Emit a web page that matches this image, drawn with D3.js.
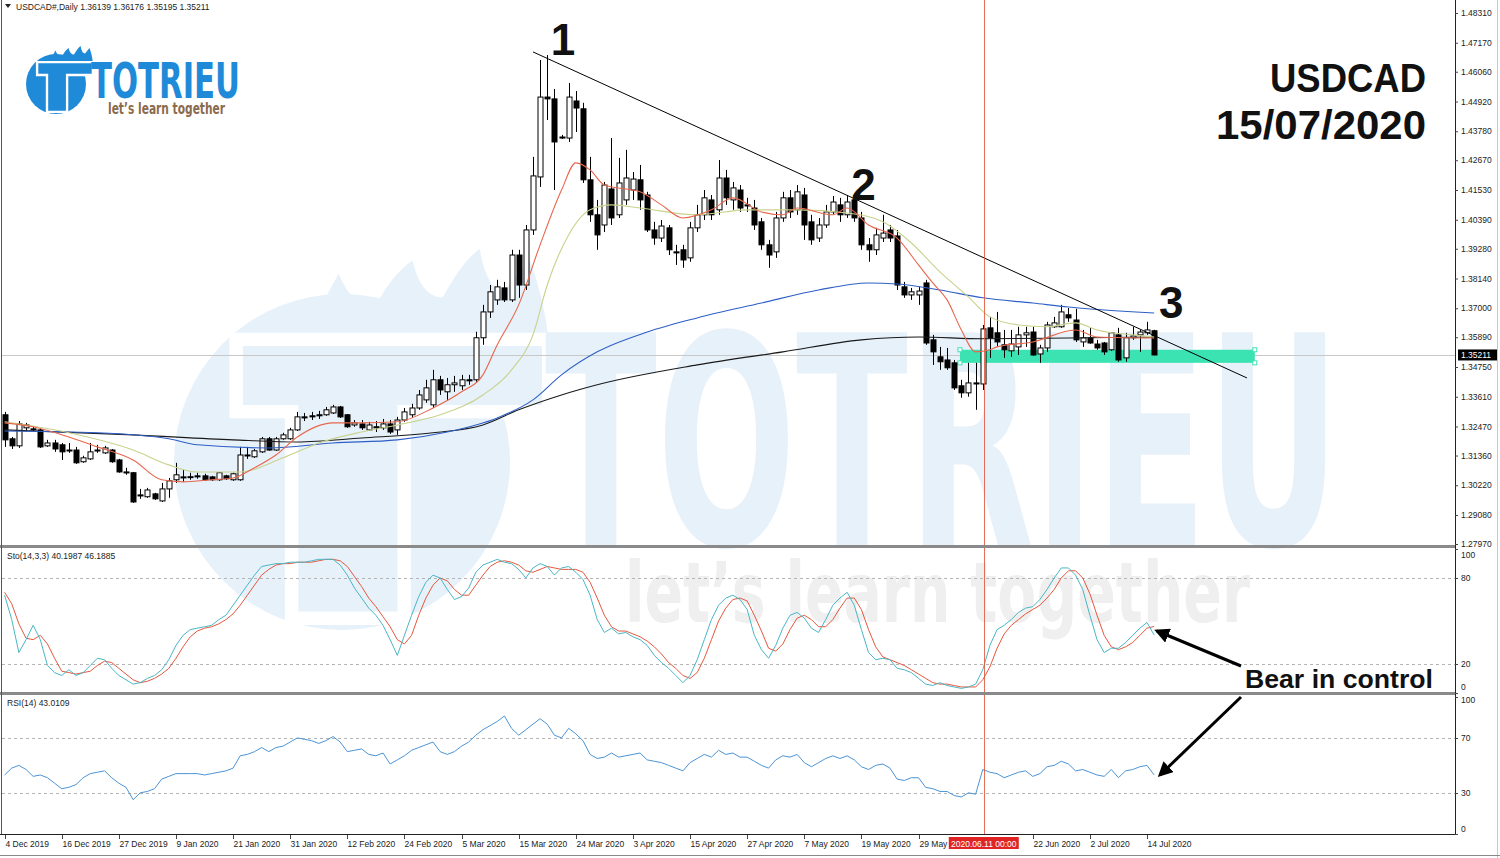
<!DOCTYPE html>
<html><head><meta charset="utf-8">
<script src="https://cdn.jsdelivr.net/npm/d3@7"></script>
<style>
body{margin:0;background:#fff;}
svg{display:block;}
</style></head>
<body><svg id="c" width="1500" height="858"></svg>
<script>
// ---------------- DATA ----------------
const openP = [1.3292,1.3200,1.3173,1.3242,1.3238,1.3234,1.3173,1.3184,1.3177,1.3157,
1.3157,1.3112,1.3123,1.3157,1.3146,1.3157,1.3119,1.3073,1.3070,1.2985,
1.2978,1.2989,1.2962,1.3008,1.3043,1.3054,1.3054,1.3058,1.3058,1.3054,
1.3043,1.3058,1.3043,1.3043,1.3138,1.3131,1.3150,1.3200,1.3157,1.3200,
1.3200,1.3234,1.3284,1.3288,1.3292,1.3292,1.3299,1.3322,1.3292,1.3253,
1.3257,1.3234,1.3246,1.3242,1.3257,1.3234,1.3272,1.3292,1.3318,1.3349,
1.3330,1.3426,1.3380,1.3407,1.3403,1.3426,1.3426,1.3587,1.3686,1.3732,
1.3778,1.3732,1.3904,1.3789,1.4000,1.4203,1.4509,1.4502,1.4356,1.4352,
1.4494,1.4464,1.4192,1.4058,1.4019,1.4157,1.4058,1.4115,1.4153,1.4192,
1.4134,1.4000,1.3969,1.4008,1.3916,1.3924,1.3893,1.4008,1.4058,1.4115,
1.4077,1.4199,1.4115,1.4153,1.4096,1.4084,1.4031,1.3943,1.3916,1.4046,
1.4123,1.4077,1.4134,1.4031,1.3969,1.4019,1.4069,1.4096,1.4058,1.4115,
1.4046,1.3943,1.3924,1.3969,1.4000,1.3977,1.3782,1.3751,1.3751,1.3797,
1.3579,1.3514,1.3502,1.3491,1.3403,1.3376,1.3414,1.3410,1.3625,1.3606,
1.3560,1.3537,1.3552,1.3598,1.3609,1.3525,1.3548,1.3629,1.3629,1.3675,
1.3655,1.3571,1.3587,1.3563,1.3567,1.3541,1.3598,1.3510,1.3587,1.3598,
1.3606,1.36139];
const highP = [1.3303,1.3207,1.3268,1.3261,1.3246,1.3242,1.3196,1.3196,1.3184,1.3184,
1.3169,1.3135,1.3184,1.3177,1.3173,1.3161,1.3123,1.3089,1.3073,1.3008,
1.3012,1.2993,1.3031,1.3050,1.3108,1.3081,1.3070,1.3070,1.3066,1.3058,
1.3073,1.3062,1.3070,1.3169,1.3169,1.3161,1.3207,1.3207,1.3207,1.3223,
1.3242,1.3303,1.3299,1.3303,1.3307,1.3322,1.3330,1.3326,1.3295,1.3272,
1.3272,1.3265,1.3268,1.3276,1.3272,1.3284,1.3318,1.3334,1.3387,1.3426,
1.3464,1.3441,1.3433,1.3441,1.3445,1.3445,1.3610,1.3713,1.3789,1.3809,
1.3801,1.3924,1.3924,1.4019,1.4280,1.4651,1.4670,1.4540,1.4364,1.4563,
1.4532,1.4487,1.4280,1.4115,1.4184,1.4352,1.4276,1.4307,1.4222,1.4249,
1.4146,1.4031,1.4038,1.4019,1.3943,1.3943,1.4031,1.4096,1.4153,1.4134,
1.4268,1.4230,1.4184,1.4172,1.4123,1.4115,1.4046,1.3962,1.4069,1.4146,
1.4153,1.4172,1.4161,1.4058,1.4046,1.4096,1.4130,1.4123,1.4134,1.4134,
1.4069,1.3969,1.4008,1.4058,1.4019,1.4000,1.3801,1.3778,1.3782,1.3809,
1.3598,1.3552,1.3548,1.3502,1.3426,1.3491,1.3491,1.3636,1.3667,1.3686,
1.3617,1.3617,1.3629,1.3629,1.3629,1.3560,1.3648,1.3667,1.3713,1.3701,
1.3698,1.3617,1.3625,1.3579,1.3571,1.3609,1.3625,1.3606,1.3629,1.3617,
1.3648,1.36176];
const lowP = [1.3169,1.3161,1.3165,1.3230,1.3230,1.3165,1.3169,1.3150,1.3119,1.3146,
1.3104,1.3108,1.3119,1.3146,1.3142,1.3108,1.3070,1.3062,1.2955,1.2970,
1.2974,1.2966,1.2958,1.2974,1.3031,1.3035,1.3043,1.3047,1.3039,1.3039,
1.3039,1.3043,1.3039,1.3039,1.3123,1.3127,1.3146,1.3154,1.3154,1.3196,
1.3196,1.3230,1.3268,1.3272,1.3276,1.3288,1.3295,1.3280,1.3242,1.3246,
1.3234,1.3230,1.3226,1.3234,1.3219,1.3215,1.3265,1.3280,1.3311,1.3338,
1.3318,1.3368,1.3349,1.3380,1.3387,1.3407,1.3414,1.3560,1.3663,1.3713,
1.3724,1.3724,1.3740,1.3770,1.3981,1.4165,1.4421,1.4153,1.4349,1.4337,
1.4375,1.4180,1.4031,1.3924,1.3992,1.4019,1.4046,1.4096,1.4115,1.4077,
1.3992,1.3943,1.3954,1.3904,1.3866,1.3855,1.3878,1.3992,1.4038,1.4038,
1.4058,1.4096,1.4077,1.4069,1.4069,1.4000,1.3924,1.3855,1.3893,1.4031,
1.4046,1.4058,1.3962,1.3943,1.3954,1.4008,1.4058,1.4031,1.4046,1.4031,
1.3924,1.3878,1.3904,1.3954,1.3954,1.3770,1.3740,1.3732,1.3713,1.3560,
1.3483,1.3464,1.3464,1.3387,1.3357,1.3361,1.3311,1.3387,1.3510,1.3552,
1.3510,1.3514,1.3521,1.3552,1.3518,1.3491,1.3533,1.3625,1.3625,1.3648,
1.3571,1.3552,1.3564,1.3541,1.3521,1.3537,1.3495,1.3495,1.3579,1.3533,
1.3598,1.35195];
const closeP = [1.3196,1.3173,1.3257,1.3253,1.3234,1.3169,1.3184,1.3161,1.3150,1.3155,
1.3108,1.3127,1.3150,1.3154,1.3165,1.3112,1.3073,1.3070,1.2958,1.2981,
1.3004,1.2970,1.3008,1.3039,1.3062,1.3052,1.3055,1.3057,1.3043,1.3043,
1.3070,1.3047,1.3066,1.3138,1.3135,1.3154,1.3200,1.3157,1.3200,1.3215,
1.3234,1.3284,1.3280,1.3284,1.3288,1.3311,1.3322,1.3284,1.3246,1.3261,
1.3242,1.3253,1.3242,1.3257,1.3226,1.3272,1.3303,1.3318,1.3368,1.3395,
1.3426,1.3387,1.3407,1.3414,1.3426,1.3422,1.3587,1.3686,1.3763,1.3782,
1.3732,1.3904,1.3789,1.4000,1.4207,1.4509,1.4502,1.4337,1.4352,1.4509,
1.4467,1.4192,1.4058,1.3981,1.4172,1.4046,1.4180,1.4199,1.4195,1.4115,
1.4000,1.3969,1.4015,1.3924,1.3912,1.3885,1.4008,1.4058,1.4123,1.4058,
1.4199,1.4123,1.4161,1.4084,1.4092,1.4019,1.3943,1.3904,1.4046,1.4123,
1.4069,1.4146,1.4019,1.3962,1.4019,1.4069,1.4107,1.4058,1.4107,1.4046,
1.3943,1.3924,1.3981,1.3988,1.3969,1.3789,1.3751,1.3763,1.3766,1.3567,
1.3533,1.3495,1.3472,1.3395,1.3376,1.3414,1.3410,1.3621,1.3586,1.3571,
1.3541,1.3563,1.3598,1.3606,1.3521,1.3548,1.3636,1.3644,1.3686,1.3663,
1.3579,1.3587,1.3567,1.3548,1.3533,1.3606,1.3502,1.3587,1.3594,1.3609,
1.3617,1.35211];

// moving averages sampled at bar indices
const maRedBars = [0,4,9,13,18,22,25,29,32,35,38,41,46,50,55,60,64,67,69,72,75,78,80,82,84,89,92,95,99,102,106,109,111,116,118,121,125,128,130,132,134,136,138,139,144,150,153,161];
const maRedVals = [1.3261,1.3246,1.3207,1.3169,1.3119,1.3043,1.3035,1.3043,1.3050,1.3089,1.3138,1.3207,1.3261,1.3261,1.3265,1.3318,1.3380,1.3445,1.3560,1.3713,1.3943,1.4153,1.4257,1.4230,1.4172,1.4146,1.4096,1.4046,1.4077,1.4123,1.4069,1.4058,1.4084,1.4058,1.4084,1.4019,1.3969,1.3866,1.3797,1.3732,1.3617,1.3533,1.3541,1.3552,1.3571,1.3617,1.3590,1.3586];
const maKhakiBars = [0,9,18,23,27,33,39,44,50,55,61,67,71,74,76,79,82,85,89,97,104,111,118,123,127,131,135,138,142,146,150,153,158,161];
const maKhakiVals = [1.3265,1.3223,1.3157,1.3100,1.3073,1.3073,1.3127,1.3184,1.3226,1.3253,1.3292,1.3368,1.3464,1.3598,1.3789,1.3981,1.4077,1.4096,1.4084,1.4058,1.4077,1.4077,1.4065,1.4031,1.3950,1.3839,1.3743,1.3667,1.3636,1.3629,1.3644,1.3617,1.3598,1.3590];
const maBlueBars = [0,13,23,27,37,46,55,62,69,74,78,83,90,97,106,114,121,125,131,137,144,149,161];
const maBlueVals = [1.3230,1.3223,1.3200,1.3177,1.3165,1.3184,1.3196,1.3226,1.3280,1.3349,1.3445,1.3533,1.3609,1.3663,1.3720,1.3770,1.3797,1.3793,1.3770,1.3740,1.3720,1.3705,1.3682];
const maBlackBars = [0,18,32,41,50,60,67,72,78,83,97,109,120,128,137,149,161];
const maBlackVals = [1.3234,1.3215,1.3196,1.3188,1.3203,1.3223,1.3253,1.3311,1.3368,1.3407,1.3483,1.3533,1.3579,1.3590,1.3583,1.3586,1.3590];

// stochastic %K, %D and RSI, one value per bar
const stochK = [68,51,28,37,47,37,19,14,12,16, 12,14,19,24,23,17,12,9,6,7, 10,12,16,23,33,40,44,45,46,47,
51,54,61,68,75,82,88,89,90,90, 91,91,91,92,93,93,93,89,82,73, 66,59,54,47,37,26,40,54,67,77,
82,80,72,65,67,73,84,89,91,93, 91,90,86,80,87,90,88,82,87,88, 84,79,68,51,42,45,41,42,39,37,
33,26,21,17,12,7,12,23,37,51, 61,66,68,65,58,40,30,24,33,45, 54,56,52,45,42,51,61,66,70,61,
44,28,23,24,23,17,16,14,10,6, 5,7,5,4,3,4,6,16,33,44, 47,51,56,59,60,65,72,80,87,87,
82,72,54,37,28,31,31,35,40,45, 49,40.1987];
const stochD = [70,62,48,38,37,40,34,24,15,14, 13,14,15,19,22,21,17,13,9,7, 8,10,13,17,24,32,39,43,45,46,
48,51,55,61,68,75,82,86,89,90, 90,91,91,91,92,93,93,92,88,81, 74,66,60,53,46,37,34,40,54,66,
75,80,78,72,68,68,75,82,88,91, 92,91,89,85,84,86,88,87,86,86, 86,84,77,66,54,46,43,43,41,39,
36,32,27,21,17,12,10,14,24,37, 50,59,65,66,64,54,43,31,29,34, 44,52,54,51,46,46,51,59,66,66,
58,44,32,25,23,21,19,16,13,10, 7,6,6,5,4,4,4,9,18,31, 41,47,51,55,58,61,66,72,80,85,
85,80,69,54,40,32,30,32,35,40, 45,46.1885];
const rsi = [43,48,50,47,42,43,41,37,33,34, 36,41,44,45,46,41,37,34,25,30, 31,33,40,42,44,44,44,44,43,44,
45,46,48,57,58,60,63,60,63,64, 67,70,69,68,66,68,71,67,60,61, 62,58,57,59,51,54,57,61,63,65,
67,60,58,60,64,67,72,76,79,82, 86,77,72,76,80,84,80,72,70,77, 73,68,58,55,56,59,56,57,58,59,
54,53,52,50,48,46,52,55,58,56, 61,58,59,56,56,53,50,48,54,57, 56,58,52,49,52,55,57,55,57,54,
49,47,50,51,48,40,39,41,41,34, 33,31,31,28,27,30,29,47,45,44, 41,43,45,46,42,44,49,50,53,51,
46,47,45,43,42,47,41,46,47,49, 50,43.0109];

const priceTicks = [1.48310,1.47170,1.46060,1.44920,1.43780,1.42670,1.41530,1.40390,1.39280,1.38140,1.37000,1.35890,1.34750,1.33610,1.32470,1.31360,1.30220,1.29080,1.27970];
const dateTickBars = [0,8,16,24,32,40,48,56,64,72,80,88,96,104,112,120,128,144,152,160];
const dateTickLabels = ["4 Dec 2019","16 Dec 2019","27 Dec 2019","9 Jan 2020","21 Jan 2020","31 Jan 2020","12 Feb 2020","24 Feb 2020","5 Mar 2020","15 Mar 2020","24 Mar 2020","3 Apr 2020","15 Apr 2020","27 Apr 2020","7 May 2020","19 May 2020","29 May 2020","22 Jun 2020","2 Jul 2020","14 Jul 2020"];
const stochTicks = [100,80,20,0];
const rsiTicks = [100,70,30,0];
const lastPrice = 1.35211;
const markerBar = 137, markerLabel = "2020.06.11 00:00";
const trendBars = [74,174], trendPrices = [1.4682,1.3433];
const zoneBars = [133.8,175.1], zonePrices = [1.3491,1.3541];
const waveLabels = ["1","2","3"], waveBars = [78.2,120.3,163.4], wavePrices = [1.4670,1.4115,1.3663];

// ---------------- SCALES ----------------
const svg = d3.select("#c");
const F = "'Liberation Sans', Arial, sans-serif";
const FC = "'DejaVu Sans Condensed','DejaVu Sans',sans-serif";
const x = d3.scaleLinear().domain([0,161]).range([4.6, 4.6+7.14*161]);
const yP = d3.scaleLinear().domain([1.27970,1.48310]).range([544,13]);
const yS = d3.scaleLinear().domain([0,100]).range([692.7,549.3]);
const yR = d3.scaleLinear().domain([0,100]).range([834,696.75]);
const RIGHT = 1455;

svg.append("rect").attr("width",1500).attr("height",858).attr("fill","#fff");

// ---------------- WATERMARK + LOGO ----------------
function logo(g, cx, cy, r, fill, gap){
  const P = (a,b)=>[cx+a*r, cy+b*r];
  g.append("circle").attr("cx",cx).attr("cy",cy).attr("r",r).attr("fill",fill);
  const fl = d3.path();
  let p = P(-0.2,-0.73); fl.moveTo(...p);
  const segs = [[-0.12,-0.95,-0.02,-1.12],[0.06,-0.92,0.2,-0.93],[0.3,-1.12,0.42,-1.2],[0.47,-0.98,0.6,-0.98],[0.72,-1.2,0.82,-1.27],[0.86,-1.02,0.97,-1.02],[1.06,-1.14,1.12,-1.2],[1.2,-0.98,1.23,-0.73]];
  segs.forEach(s=>{const c=P(s[0],s[1]), e=P(s[2],s[3]); fl.quadraticCurveTo(c[0],c[1],e[0],e[1]);});
  fl.closePath();
  g.append("path").attr("d",fl.toString()).attr("fill",fill);
  const t = [P(-0.63,-0.73),P(1.23,-0.73),P(1.23,-0.3),P(0.37,-0.3),P(0.37,0.93),P(-0.3,0.93),P(-0.3,-0.3),P(-0.63,-0.3)];
  g.append("path").attr("d","M"+t.map(q=>q.join(",")).join("L")+"Z").attr("fill",fill).attr("stroke",gap).attr("stroke-width",r*0.08);
}
const wm = svg.append("g");
logo(wm, 342, 462, 168, "#e7f1fa", "#ffffff");
wm.append("text").attr("x",545).attr("y",545).attr("font-family",FC).attr("font-weight","bold").attr("font-size",292)
  .attr("textLength",795).attr("lengthAdjust","spacingAndGlyphs").attr("fill","#e7f1fa").text("TOTRIEU");
wm.append("text").attr("x",625).attr("y",622).attr("font-family",FC).attr("font-weight","bold").attr("font-size",84)
  .attr("textLength",625).attr("lengthAdjust","spacingAndGlyphs").attr("fill","#efefef").text("let’s learn together");

const lg = svg.append("g");
logo(lg, 56, 84, 30, "#1f8ad8", "#ffffff");
lg.append("text").attr("x",91).attr("y",98).attr("font-family",FC).attr("font-weight","bold").attr("font-size",49)
  .attr("textLength",149).attr("lengthAdjust","spacingAndGlyphs").attr("fill","#1f8ad8").text("TOTRIEU");
lg.append("text").attr("x",108).attr("y",114).attr("font-family",FC).attr("font-weight","bold").attr("font-size",16)
  .attr("textLength",117).attr("lengthAdjust","spacingAndGlyphs").attr("fill","#8b6b4e").text("let’s learn together");

// ---------------- CLIPS ----------------
const defs = svg.append("defs");
defs.append("clipPath").attr("id","cpM").append("rect").attr("x",2).attr("y",0).attr("width",RIGHT-2).attr("height",545);
defs.append("clipPath").attr("id","cpS").append("rect").attr("x",2).attr("y",549).attr("width",RIGHT-2).attr("height",143);
defs.append("clipPath").attr("id","cpR").append("rect").attr("x",2).attr("y",696).attr("width",RIGHT-2).attr("height",138);
defs.append("marker").attr("id","arr").attr("viewBox","0 0 10 10").attr("refX",8).attr("refY",5)
  .attr("markerWidth",5).attr("markerHeight",5).attr("orient","auto")
  .append("path").attr("d","M0,0L10,5L0,10Z").attr("fill","#000");

// ---------------- MAIN PANEL ----------------
const gm = svg.append("g").attr("clip-path","url(#cpM)");
gm.append("line").attr("x1",2).attr("x2",RIGHT).attr("y1",Math.round(yP(lastPrice))+0.5).attr("y2",Math.round(yP(lastPrice))+0.5)
  .attr("stroke","#c8c8c8");
gm.append("rect").attr("x",x(zoneBars[0])).attr("width",x(zoneBars[1])-x(zoneBars[0]))
  .attr("y",yP(zonePrices[1])).attr("height",yP(zonePrices[0])-yP(zonePrices[1])).attr("fill","#3be3b2");
[[zoneBars[0],zonePrices[1]],[zoneBars[1],zonePrices[1]],[zoneBars[1],zonePrices[0]],[zoneBars[0],zonePrices[0]]].forEach(c=>{
  gm.append("rect").attr("x",x(c[0])-2).attr("y",yP(c[1])-2).attr("width",4).attr("height",4).attr("fill","#fff").attr("stroke","#3be3b2");
});

const line = (yy)=>d3.line().x(d=>x(d[0])).y(d=>yy(d[1])).curve(d3.curveMonotoneX);
const mas = [[maBlackBars,maBlackVals,"#1a1a1a"],[maBlueBars,maBlueVals,"#2e5fc6"],[maKhakiBars,maKhakiVals,"#c9d28c"],[maRedBars,maRedVals,"#e8664c"]];

const bars = d3.range(openP.length).map(i=>({i,o:openP[i],h:highP[i],l:lowP[i],c:closeP[i]}));
const cg = gm.append("g");
cg.selectAll("line.w").data(bars).join("line")
  .attr("x1",d=>Math.round(x(d.i))+0.5).attr("x2",d=>Math.round(x(d.i))+0.5)
  .attr("y1",d=>yP(d.h)).attr("y2",d=>yP(d.l)).attr("stroke","#000").attr("stroke-width",1);
cg.selectAll("rect.b").data(bars).join("rect")
  .attr("x",d=>Math.round(x(d.i))-2).attr("width",5)
  .attr("y",d=>yP(Math.max(d.o,d.c))).attr("height",d=>Math.max(1,Math.abs(yP(d.o)-yP(d.c))))
  .attr("fill",d=>d.c>=d.o?"#fff":"#000").attr("stroke","#000").attr("stroke-width",1);

mas.forEach(m=>{
  gm.append("path").datum(m[0].map((b,k)=>[b,m[1][k]])).attr("d",line(yP)).attr("fill","none").attr("stroke",m[2]).attr("stroke-width",1.1);
});

gm.append("line").attr("x1",x(trendBars[0])).attr("y1",yP(trendPrices[0])).attr("x2",x(trendBars[1])).attr("y2",yP(trendPrices[1]))
  .attr("stroke","#000").attr("stroke-width",1);

waveLabels.forEach((t,k)=>{
  svg.append("text").attr("x",x(waveBars[k])).attr("y",yP(wavePrices[k])).attr("text-anchor","middle")
    .attr("font-family",F).attr("font-weight","bold").attr("font-size",44).attr("fill","#111").text(t);
});
svg.append("text").attr("x",1426).attr("y",92).attr("text-anchor","end").attr("font-family",F).attr("font-weight","bold")
  .attr("font-size",40).attr("textLength",156).attr("lengthAdjust","spacingAndGlyphs").attr("fill","#111").text("USDCAD");
svg.append("text").attr("x",1426).attr("y",139).attr("text-anchor","end").attr("font-family",F).attr("font-weight","bold")
  .attr("font-size",40).attr("textLength",210).attr("lengthAdjust","spacingAndGlyphs").attr("fill","#111").text("15/07/2020");

// ---------------- STOCH PANEL ----------------
const gs = svg.append("g").attr("clip-path","url(#cpS)");
[80,20].forEach(v=>gs.append("line").attr("x1",2).attr("x2",RIGHT).attr("y1",Math.round(yS(v))+0.5).attr("y2",Math.round(yS(v))+0.5)
  .attr("stroke","#b4b4b4").attr("stroke-dasharray","3,3"));
const sdat = a=>a.map((v,i)=>[i,v]);
const lin = yy=>d3.line().x(d=>x(d[0])).y(d=>yy(d[1]));
gs.append("path").datum(sdat(stochD)).attr("d",lin(yS)).attr("fill","none").attr("stroke","#e5583e").attr("stroke-width",1);
gs.append("path").datum(sdat(stochK)).attr("d",lin(yS)).attr("fill","none").attr("stroke","#49b7c4").attr("stroke-width",1);

// ---------------- RSI PANEL ----------------
const gr = svg.append("g").attr("clip-path","url(#cpR)");
[70,30].forEach(v=>gr.append("line").attr("x1",2).attr("x2",RIGHT).attr("y1",Math.round(yR(v))+0.5).attr("y2",Math.round(yR(v))+0.5)
  .attr("stroke","#b4b4b4").attr("stroke-dasharray","3,3"));
gr.append("path").datum(sdat(rsi)).attr("d",lin(yR)).attr("fill","none").attr("stroke","#4b94d6").attr("stroke-width",1);

// vertical marker line
svg.append("line").attr("x1",Math.round(x(markerBar))+1.5).attr("x2",Math.round(x(markerBar))+1.5).attr("y1",0).attr("y2",834)
  .attr("stroke","#e0553a").attr("stroke-opacity",0.85).attr("stroke-width",1);

// ---------------- FRAMES ----------------
svg.append("rect").attr("x",0).attr("y",545).attr("width",RIGHT+1).attr("height",3).attr("fill","#8a8a8a");
svg.append("rect").attr("x",0).attr("y",692).attr("width",RIGHT+1).attr("height",3).attr("fill","#8a8a8a");
svg.append("line").attr("x1",1.5).attr("x2",1.5).attr("y1",0).attr("y2",835).attr("stroke","#555");
svg.append("line").attr("x1",RIGHT+0.5).attr("x2",RIGHT+0.5).attr("y1",0).attr("y2",835).attr("stroke","#222");
svg.append("line").attr("x1",0).attr("x2",RIGHT+1).attr("y1",834.5).attr("y2",834.5).attr("stroke","#222");
svg.append("line").attr("x1",1497.5).attr("x2",1497.5).attr("y1",0).attr("y2",858).attr("stroke","#c8c8c8");
svg.append("line").attr("x1",0).attr("x2",1500).attr("y1",855.5).attr("y2",855.5).attr("stroke","#888");

// ---------------- AXES ----------------
const axP = d3.axisRight(yP).tickValues(priceTicks).tickFormat(d3.format(".5f")).tickSize(3).tickPadding(3);
const ga = svg.append("g").attr("transform",`translate(${RIGHT},0)`).call(axP);
ga.select(".domain").remove();
ga.selectAll("text").attr("font-family",F).attr("font-size",8.5).attr("fill","#222");
ga.selectAll("line").attr("stroke","#444");

function smallAxis(scale, vals, offs){
  const g = svg.append("g").attr("transform",`translate(${RIGHT},0)`);
  vals.forEach((v,k)=>{
    g.append("line").attr("x1",0).attr("x2",3).attr("y1",Math.round(scale(v))+0.5).attr("y2",Math.round(scale(v))+0.5).attr("stroke","#444");
    g.append("text").attr("x",6).attr("y",scale(v)+offs[k]).attr("dy","0.32em").attr("font-family",F).attr("font-size",8.5).attr("fill","#222").text(v);
  });
}
smallAxis(yS, stochTicks, [6,0,0,-5]);
smallAxis(yR, rsiTicks, [4,0,0,-5]);

// last price box
svg.append("rect").attr("x",RIGHT+3).attr("y",yP(lastPrice)-5.5).attr("width",39).attr("height",11).attr("fill","#000");
svg.append("text").attr("x",RIGHT+6).attr("y",yP(lastPrice)).attr("dy","0.34em").attr("font-family",F).attr("font-size",8.5)
  .attr("fill","#fff").text(d3.format(".5f")(lastPrice));

// time axis
const gt = svg.append("g");
dateTickBars.forEach((b,k)=>{
  const xx = Math.round(x(b))+0.5;
  gt.append("line").attr("x1",xx).attr("x2",xx).attr("y1",835).attr("y2",839).attr("stroke","#444");
  gt.append("text").attr("x",xx).attr("y",847).attr("font-family",F).attr("font-size",8.5).attr("fill","#222").text(dateTickLabels[k]);
});
const mx = x(markerBar)+1;
svg.append("rect").attr("x",mx-35).attr("y",837).attr("width",70).attr("height",12).attr("fill","#e02424");
svg.append("text").attr("x",mx).attr("y",846.5).attr("text-anchor","middle").attr("font-family",F).attr("font-size",8.5).attr("fill","#fff").text(markerLabel);

// ---------------- HEADERS ----------------
svg.append("path").attr("d","M5,4L11,4L8,8Z").attr("fill","#222");
svg.append("text").attr("x",16).attr("y",10).attr("font-family",F).attr("font-size",8.5).attr("fill","#222")
  .text("USDCAD#,Daily  1.36139 1.36176 1.35195 1.35211");
svg.append("text").attr("x",7).attr("y",559).attr("font-family",F).attr("font-size",8.5).attr("fill","#222")
  .text("Sto(14,3,3) 40.1987 46.1885");
svg.append("text").attr("x",7).attr("y",706).attr("font-family",F).attr("font-size",8.5).attr("fill","#222")
  .text("RSI(14) 43.0109");

// ---------------- ANNOTATION ----------------
svg.append("text").attr("x",1245).attr("y",688).attr("font-family",F).attr("font-weight","bold").attr("font-size",26)
  .attr("textLength",188).attr("lengthAdjust","spacingAndGlyphs").attr("fill","#111").text("Bear in control");
svg.append("line").attr("x1",1241).attr("y1",666).attr("x2",1157).attr("y2",631).attr("stroke","#000").attr("stroke-width",3).attr("marker-end","url(#arr)");
svg.append("line").attr("x1",1241).attr("y1",697).attr("x2",1160).attr("y2",775).attr("stroke","#000").attr("stroke-width",3).attr("marker-end","url(#arr)");
</script></body></html>
